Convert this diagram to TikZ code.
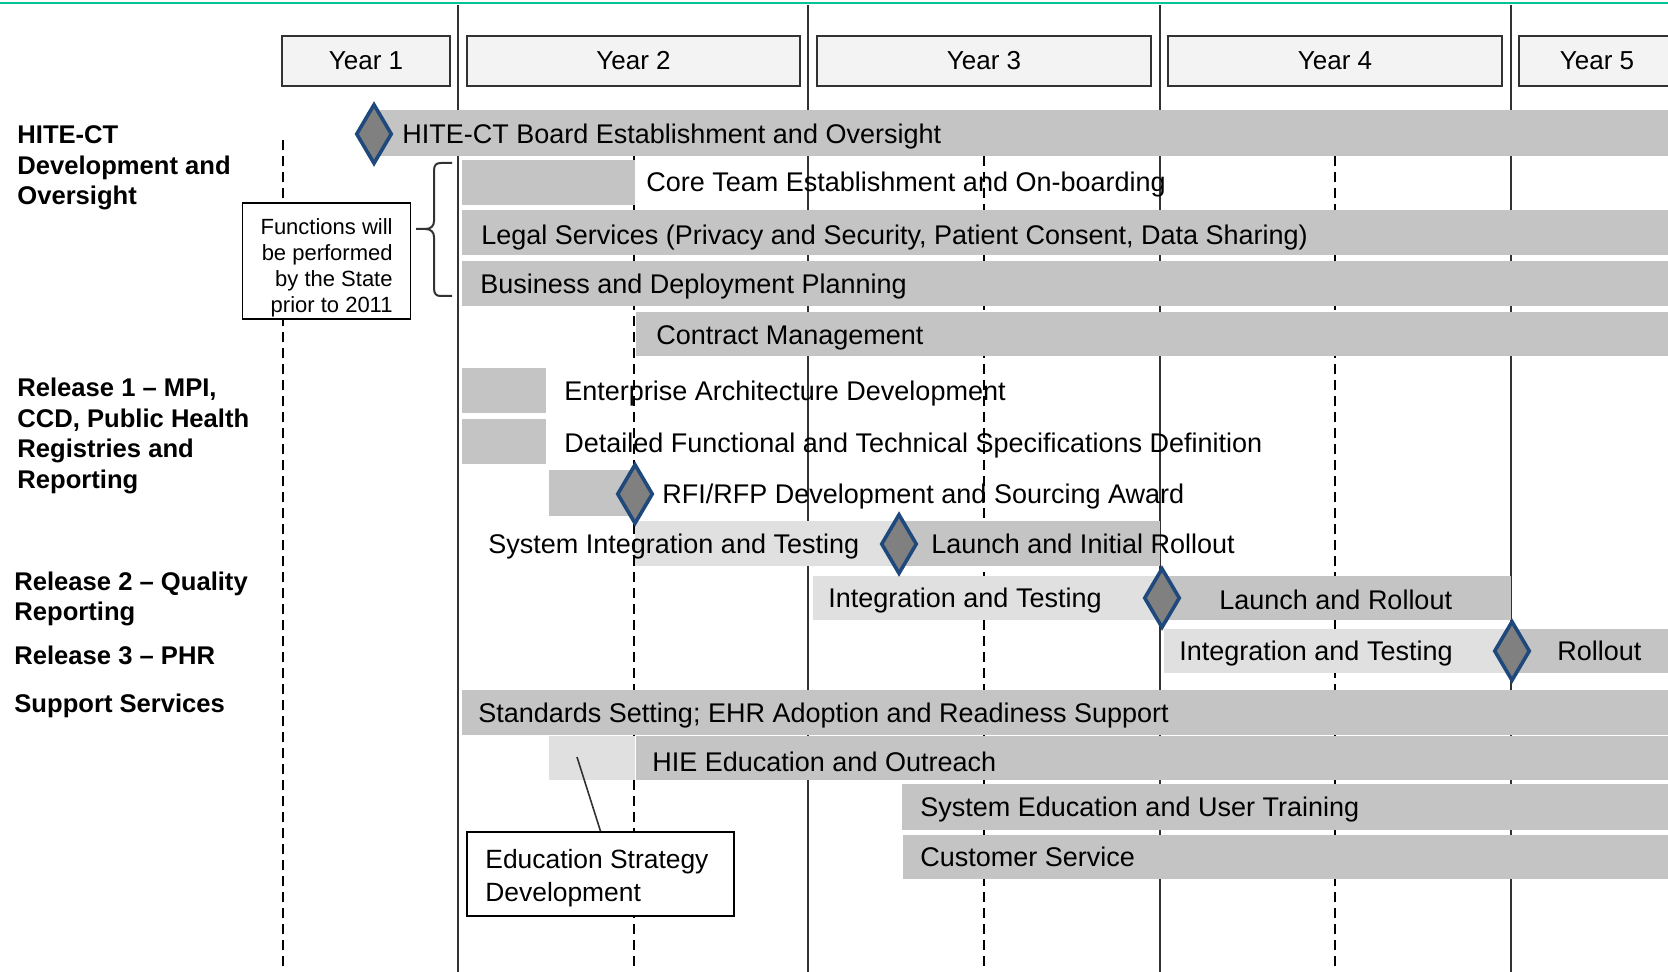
\documentclass[tikz,border=0pt]{standalone}
\usepackage{fontspec}
\setmainfont{Liberation Sans}
\usetikzlibrary{shapes.geometric}
\definecolor{barDark}{RGB}{196,196,196}
\definecolor{barLight}{RGB}{224,224,224}
\definecolor{gridLine}{RGB}{50,50,50}
\definecolor{topTeal}{RGB}{0,196,150}
\definecolor{msEdge}{RGB}{31,73,125}
\definecolor{msFill}{RGB}{128,128,128}
\definecolor{yearFill}{RGB}{243,243,243}
\tikzset{
  yearline/.style={draw=gridLine,line width=1pt},
  halfline/.style={draw=black,line width=0.8pt,dash pattern=on 5pt off 3pt},
  yearbox/.style={draw=gridLine,fill=yearFill,line width=1pt,minimum height=25pt,inner sep=0pt,font=\fontsize{13}{15}\selectfont},
  darkbar/.style={fill=barDark},
  lightbar/.style={fill=barLight},
  bartext/.style={anchor=west,inner sep=0pt,text height=9.7pt,text depth=0pt,font=\fontsize{13.5}{16}\selectfont},
  milestone/.style={diamond,draw=msEdge,fill=msFill,line width=1.8pt,minimum width=18pt,minimum height=30pt,inner sep=0pt},
  grouplabel/.style={anchor=west,align=left,inner sep=0pt,font=\fontsize{12.8}{15.25}\selectfont\bfseries},
  notebox/.style={draw=black,fill=white,line width=0.8pt,inner sep=0pt},
  notetext/.style={inner sep=0pt}
}
\begin{document}
\begin{tikzpicture}[x=0.5pt,y=-0.5pt]
            \useasboundingbox (0,0) rectangle (1668,972);
            \draw[topTeal,line width=1.2pt] (0,3)--(1668,3);

            \draw[yearline] (458,5)--(458,972);
            \draw[yearline] (808,5)--(808,972);
            \draw[yearline] (1160,5)--(1160,972);
            \draw[yearline] (1511,5)--(1511,972);
            \draw[halfline] (283,140)--(283,972);
            \draw[halfline] (634,140)--(634,972);
            \draw[halfline] (984,140)--(984,972);
            \draw[halfline] (1335,140)--(1335,972);

            \node[yearbox,minimum width=84pt] (yr1) at (366,61) {Year 1};
            \node[yearbox,minimum width=166.5pt] (yr2) at (633.5,61) {Year 2};
            \node[yearbox,minimum width=167pt] (yr3) at (984,61) {Year 3};
            \node[yearbox,minimum width=167pt] (yr4) at (1335,61) {Year 4};
            \node[yearbox,minimum width=78pt] (yr5) at (1597,61) {Year 5};

            \fill[darkbar] (376,110) rectangle (1680,156);
            \fill[darkbar] (462,160) rectangle (635,205);
            \fill[darkbar] (462,210) rectangle (1680,255);
            \fill[darkbar] (462,261) rectangle (1680,306);
            \fill[darkbar] (636,312) rectangle (1680,356);
            \fill[darkbar] (462,368) rectangle (546,413);
            \fill[darkbar] (462,419) rectangle (546,464);
            \fill[darkbar] (549,470) rectangle (635,516);
            \fill[lightbar] (635,521) rectangle (899,566);
            \fill[darkbar] (899,521) rectangle (1160,566);
            \fill[lightbar] (813,576) rectangle (1162,620);
            \fill[darkbar] (1162,576) rectangle (1511,620);
            \fill[lightbar] (1164,629) rectangle (1512,673);
            \fill[darkbar] (1512,629) rectangle (1680,673);
            \fill[darkbar] (462,690) rectangle (1680,735);
            \fill[lightbar] (549,736) rectangle (635,780);
            \fill[darkbar] (636,736) rectangle (1680,780);
            \fill[darkbar] (902,784) rectangle (1680,830);
            \fill[darkbar] (903,835) rectangle (1680,879);

            \node[bartext] (board) at (402,134) {HITE-CT Board Establishment and Oversight};
            \node[bartext] (core) at (646,182) {Core Team Establishment and On-boarding};
            \node[bartext] (legal) at (481,235) {Legal Services (Privacy and Security, Patient Consent, Data Sharing)};
            \node[bartext] (plan) at (480,284) {Business and Deployment Planning};
            \node[bartext] (contract) at (656,335) {Contract Management};
            \node[bartext] (arch) at (564,391) {Enterprise Architecture Development};
            \node[bartext] (spec) at (564,443) {Detailed Functional and Technical Specifications Definition};
            \node[bartext] (rfp) at (662,494) {RFI/RFP Development and Sourcing Award};
            \node[bartext] (sit) at (488,544) {System Integration and Testing};
            \node[bartext] (launch1) at (931,544) {Launch and Initial Rollout};
            \node[bartext] (test2) at (828,598) {Integration and Testing};
            \node[bartext] (launch2) at (1219,600) {Launch and Rollout};
            \node[bartext] (test3) at (1179,651) {Integration and Testing};
            \node[bartext] (rollout3) at (1557,651) {Rollout};
            \node[bartext] (standards) at (478,713) {Standards Setting; EHR Adoption and Readiness Support};
            \node[bartext] (outreach) at (652,762) {HIE Education and Outreach};
            \node[bartext] (training) at (920,807) {System Education and User Training};
            \node[bartext] (service) at (920,857) {Customer Service};

            \node[milestone] (ms1) at (374,134) {};
            \node[milestone] (ms2) at (635,494) {};
            \node[milestone] (ms3) at (899,544) {};
            \node[milestone] (ms4) at (1162,598) {};
            \node[milestone] (ms5) at (1512,651) {};

            \node[notebox,minimum width=84pt,minimum height=58pt] (funcbox) at (326.5,261) {};
            \node[notetext,anchor=east,align=flush right,font=\fontsize{11}{13}\selectfont] (functext) at (393,268) {Functions will\\be performed\\by the State\\prior to 2011};
            \draw[gridLine,line width=1pt] (452,163)--(441,163) .. controls (436,163) and (434,165) .. (434,171)--(434,221) .. controls (434,226) and (431,229) .. (425,229)--(416,229);
            \draw[gridLine,line width=1pt] (425,229) .. controls (431,229) and (434,232) .. (434,237)--(434,288) .. controls (434,294) and (436,296) .. (441,296)--(452,296);

            \node[notebox,minimum width=133.5pt,minimum height=42pt] (edubox) at (600.5,874) {};
            \node[notetext,anchor=west,align=left,font=\fontsize{13.2}{16.5}\selectfont] (edutext) at (485,878) {Education Strategy\\Development};
            \coordinate (edupt) at (577,757);
            \draw[gridLine,line width=0.8pt] (edupt)--(edubox.north);

            \node[grouplabel] (grpHite) at (17,168) {HITE-CT\\Development and\\Oversight};
            \node[grouplabel] (grpRel1) at (17,436) {Release 1 -- MPI,\\CCD, Public Health\\Registries and\\Reporting};
            \node[grouplabel] (grpRel2) at (14,599) {Release 2 -- Quality\\Reporting};
            \node[grouplabel] (grpRel3) at (14,655) {Release 3 -- PHR};
            \node[grouplabel] (grpSupport) at (14,706) {Support Services};
        \end{tikzpicture}
\end{document}
